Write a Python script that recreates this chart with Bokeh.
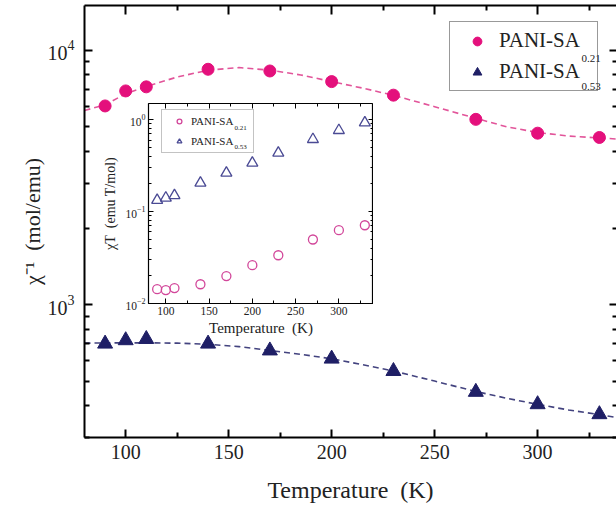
import math
from bokeh.plotting import figure
from bokeh.models import (Range1d, FixedTicker, LinearAxis, LogAxis, Legend,
                          LegendItem, Label, CustomJSTickFormatter, Title)
from bokeh.layouts import column
from bokeh.embed import file_html
from bokeh.resources import INLINE

# ---------------- data ----------------
temps = [90, 100, 110, 140, 170, 200, 230, 270, 300, 330]
inv_chi_021 = [6040, 6920, 7180, 8420, 8290, 7530, 6660, 5350, 4720, 4540]
inv_chi_053 = [701, 723, 731, 701, 659, 612, 547, 453, 405, 370]

fit_temps = [80, 90, 100, 110, 125, 140, 155, 170, 185, 200, 215, 230, 250,
             270, 285, 300, 315, 330, 338]
fit_021 = [5800, 6100, 6750, 7200, 7850, 8350, 8550, 8350, 8000, 7530, 7100,
           6650, 6000, 5400, 5000, 4750, 4600, 4520, 4480]
fit_053 = [705, 706, 707, 707, 705, 698, 683, 660, 637, 612, 580, 548, 500,
           455, 428, 405, 385, 369, 360]

chiT_021 = [0.0143, 0.0140, 0.0147, 0.0162, 0.0199, 0.0261, 0.0335, 0.0497,
            0.0627, 0.0710]
chiT_053 = [0.133, 0.141, 0.150, 0.205, 0.263, 0.338, 0.434, 0.611, 0.766,
            0.927]

series_names = ["PANI-SA", "PANI-SA"]
series_subs = ["0.21", "0.53"]

x_major = [100, 150, 200, 250, 300]
x_minor = [125, 175, 225, 275, 325]
y_major_main = [1000, 10000]
y_minor_main = [300, 400, 500, 600, 700, 800, 900,
                2000, 3000, 4000, 5000, 6000, 7000, 8000, 9000]
y_major_ins = [0.01, 0.1, 1]
y_minor_ins = [0.02, 0.03, 0.04, 0.05, 0.06, 0.07, 0.08, 0.09,
               0.2, 0.3, 0.4, 0.5, 0.6, 0.7, 0.8, 0.9]

FONT = "Liberation Serif"
PINK = "#e4107c"
NAVY = "#1f1f66"
PINK_LINE = "#e2559a"
NAVY_LINE = "#43437f"
PINK_OPEN = "#d2479a"
NAVY_OPEN = "#4a4a94"
TXT = "#222222"


def style_axis(ax, ticker, font_size, tin, tmin, lw, show_labels=True,
               standoff=6, line=True):
    ax.ticker = ticker
    ax.major_tick_in = tin
    ax.major_tick_out = 0
    ax.minor_tick_in = tmin
    ax.minor_tick_out = 0
    ax.major_tick_line_width = lw
    ax.minor_tick_line_width = lw
    ax.major_tick_line_color = "black"
    ax.minor_tick_line_color = "black"
    ax.axis_line_width = lw
    ax.axis_line_color = "black" if line else None
    ax.major_label_text_font = FONT
    ax.major_label_text_color = TXT
    ax.axis_label_text_font = FONT
    ax.axis_label_text_font_style = "normal"
    ax.axis_label_text_color = TXT
    if show_labels:
        ax.major_label_text_font_size = font_size
        ax.major_label_standoff = standoff
    else:
        ax.formatter = CustomJSTickFormatter(code="return ''")
        ax.major_label_text_font_size = "1px"
        ax.major_label_standoff = 0


# ---------------- main figure ----------------
p = figure(width=616, height=508, x_range=Range1d(80, 338.3),
           y_range=Range1d(300, 15000), y_axis_type="log",
           output_backend="svg", toolbar_location=None,
           min_border_left=84, min_border_right=0, min_border_top=5,
           min_border_bottom=71, outline_line_color=None,
           background_fill_color="white", border_fill_color="white")
p.grid.visible = False

xt = FixedTicker(ticks=x_major, minor_ticks=x_minor)
yt = FixedTicker(ticks=y_major_main, minor_ticks=y_minor_main)

style_axis(p.xaxis[0], xt, "20px", 8, 5, 2, standoff=7)
p.xaxis[0].axis_label = "Temperature\u00a0\u00a0(K)"
p.xaxis[0].axis_label_text_font_size = "24px"
p.xaxis[0].axis_label_standoff = 15
style_axis(p.yaxis[0], yt, "20px", 8, 5, 2, standoff=10)

top_ax = LinearAxis()
style_axis(top_ax, xt, "1px", 9, 5, 2, show_labels=False)
p.add_layout(top_ax, "above")
right_ax = LogAxis()
style_axis(right_ax, yt, "1px", 7, 4, 2, show_labels=False, line=False)
p.add_layout(right_ax, "right")

p.add_layout(Title(text="\u03c7\u207b\u00b9\u00a0\u00a0(mol/emu)",
                   text_font=FONT, text_font_size="22px",
                   text_font_style="normal", text_color=TXT,
                   align="center", offset=-19, standoff=0), "left")

p.line(fit_temps, fit_021, line_color=PINK_LINE, line_width=1.6,
       line_dash="6 4")
p.line(fit_temps, fit_053, line_color=NAVY_LINE, line_width=1.6,
       line_dash="6 4")
r1 = p.scatter(temps, inv_chi_021, marker="circle", size=12,
               fill_color=PINK, line_color=PINK)
r2 = p.scatter(temps, inv_chi_053, marker="triangle", size=15,
               fill_color=NAVY, line_color=NAVY)

leg = Legend(items=[LegendItem(label=series_names[0], renderers=[r1]),
                    LegendItem(label=series_names[1], renderers=[r2])],
             location=(365, 346), label_text_font=FONT,
             label_text_font_size="21px", label_text_color=TXT,
             glyph_width=42, glyph_height=22, label_standoff=1, padding=6,
             spacing=6, label_width=92, label_height=22,
             border_line_color="#333333", border_line_width=1,
             background_fill_alpha=0, margin=0)
p.add_layout(leg, "center")
for sub, yb in zip(series_subs, [379.5, 351]):
    p.add_layout(Label(x=497, y=yb, x_units="screen", y_units="screen",
                       text=sub, text_font=FONT, text_font_size="11px",
                       text_color=TXT, text_baseline="alphabetic"))

# ---------------- inset ----------------
# the column shares left/right borders with the main figure (84 px left)
ins = figure(width=84 + 223 + 2, height=254, x_range=Range1d(80, 340),
             y_range=Range1d(0.01, 1.5), y_axis_type="log",
             output_backend="svg", toolbar_location=None,
             min_border_left=50, min_border_right=0, min_border_top=10,
             min_border_bottom=44, border_fill_color=None,
             background_fill_color="white", outline_line_color="black",
             outline_line_width=1.2)
ins.grid.visible = False
ixt = FixedTicker(ticks=x_major, minor_ticks=x_minor)
iyt = FixedTicker(ticks=y_major_ins, minor_ticks=y_minor_ins)
style_axis(ins.xaxis[0], ixt, "11.5px", 5, 3, 1, standoff=3, line=False)
ins.xaxis[0].axis_label = "Temperature\u00a0\u00a0(K)"
ins.xaxis[0].axis_label_text_font_size = "15px"
ins.xaxis[0].axis_label_standoff = 2
style_axis(ins.yaxis[0], iyt, "11.5px", 5, 3, 1, standoff=3, line=False)
ins.yaxis[0].axis_label = "\u03c7T\u00a0\u00a0(emu T/mol)"
ins.yaxis[0].axis_label_text_font_size = "14px"
ins.yaxis[0].axis_label_standoff = 4
itop = LinearAxis()
style_axis(itop, ixt, "1px", 5, 3, 1, show_labels=False, line=False)
ins.add_layout(itop, "above")
iright = LogAxis()
style_axis(iright, iyt, "1px", 5, 3, 1, show_labels=False, line=False)
ins.add_layout(iright, "right")

c1 = ins.scatter(temps, chiT_021, marker="circle", size=9, fill_color=None,
                 line_color=PINK_OPEN, line_width=1.3)
c2 = ins.scatter(temps, chiT_053, marker="triangle", size=11,
                 fill_color=None, line_color=NAVY_OPEN, line_width=1.3)
ileg = Legend(items=[LegendItem(label=series_names[0], renderers=[c1]),
                     LegendItem(label=series_names[1], renderers=[c2])],
              location=(13, 150), label_text_font=FONT,
              label_text_font_size="11px", label_text_color=TXT,
              glyph_width=24, glyph_height=12, label_standoff=0, padding=5,
              spacing=8, label_width=57, label_height=12,
              border_line_color="#888888", border_line_width=1,
              background_fill_alpha=0, margin=0)
ins.add_layout(ileg, "center")
for sub, yb in zip(series_subs, [176, 156.5]):
    ins.add_layout(Label(x=86, y=yb, x_units="screen", y_units="screen",
                         text=sub, text_font=FONT, text_font_size="7px",
                         text_color=TXT, text_baseline="alphabetic"))

ins.styles = {"position": "absolute", "left": "64px", "top": "93px",
              "z-index": "5"}
root = column(p, ins, styles={"position": "relative"})

open("out.html", "w").write(file_html(root, INLINE))
